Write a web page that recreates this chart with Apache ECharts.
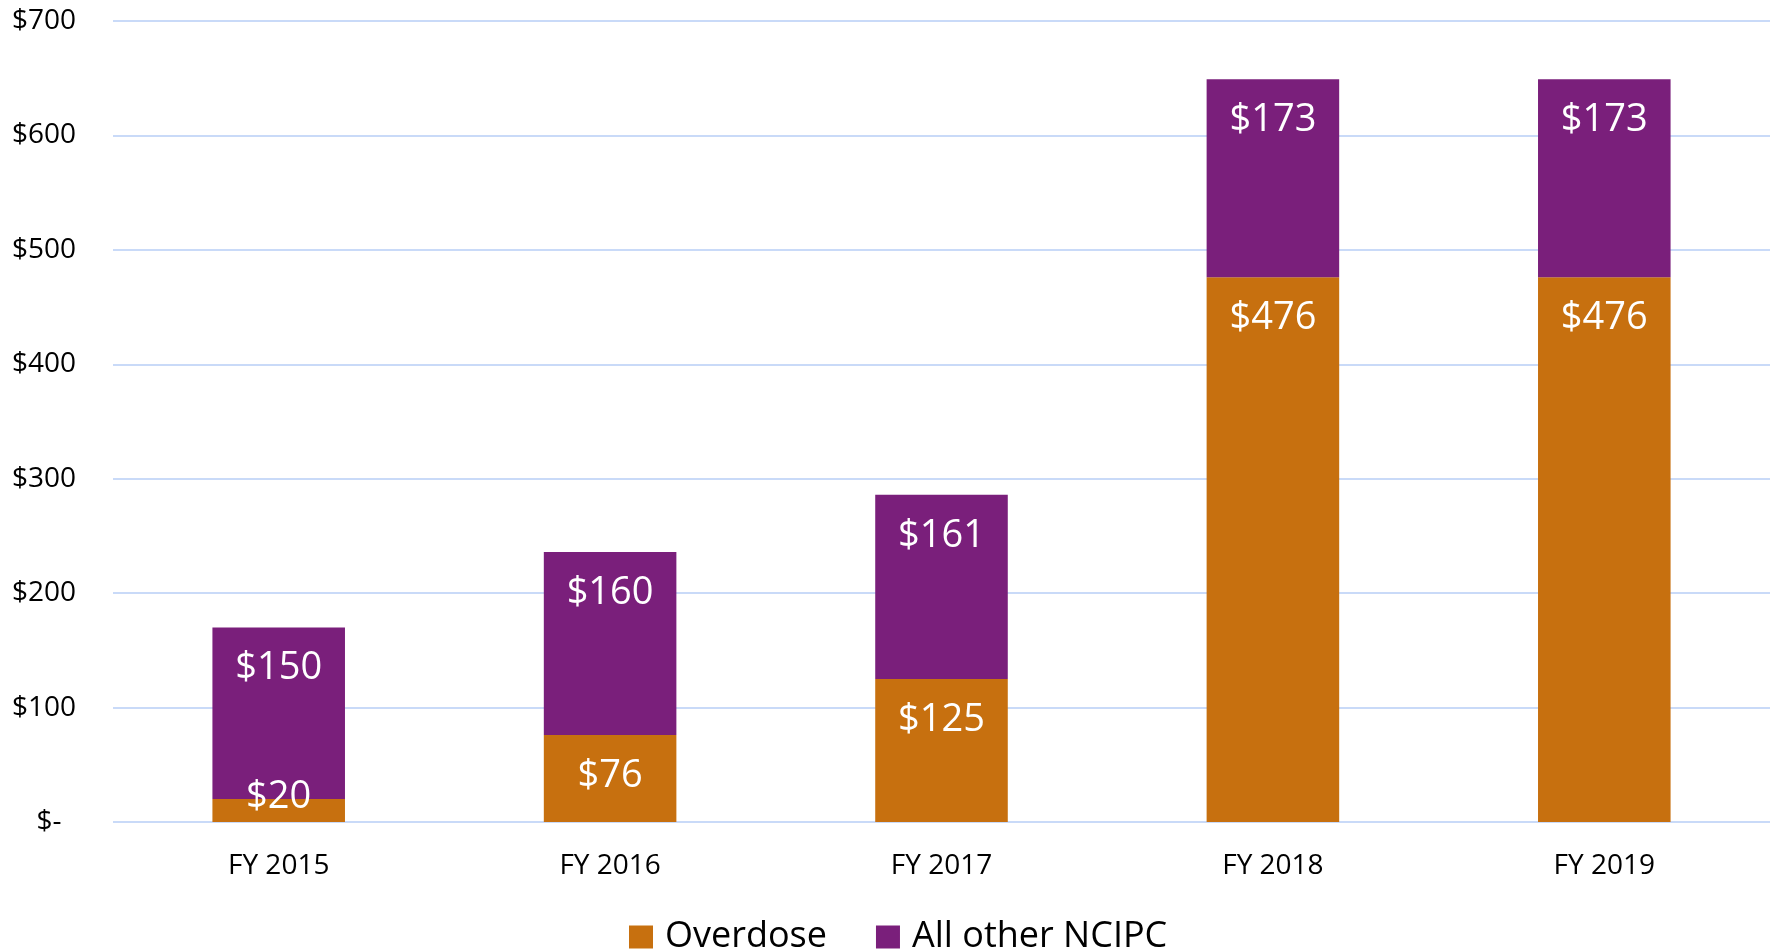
<!DOCTYPE html>
<html>
<head>
<meta charset="utf-8">
<script src="https://cdn.jsdelivr.net/npm/echarts@6/dist/echarts.min.js"></script>
<style>
html,body{margin:0;padding:0;background:#fff;}
#chart{width:1781px;height:950px;}
</style>
</head>
<body>
<div id="chart"></div>
<script>
const categories = ['FY 2015', 'FY 2016', 'FY 2017', 'FY 2018', 'FY 2019'];
const overdose = [20, 76, 125, 476, 476];
const allOther = [150, 160, 161, 173, 173];
const seriesNames = ['Overdose', 'All other NCIPC'];
const yTicks = [0, 100, 200, 300, 400, 500, 600, 700];

const FONT = '"Open Sans", "Noto Sans", sans-serif';
const ORANGE = '#C7700F';
const PURPLE = '#7A1F7B';

function buildData(values) {
  return values.map(v => {
    if (v < 40) {
      return { value: v, label: { position: 'inside', offset: [0, -13] } };
    }
    return v;
  });
}

const labelStyle = {
  show: true,
  position: 'insideTop',
  distance: 22,
  color: '#ffffff',
  fontFamily: FONT,
  fontSize: 38,
  formatter: p => '$' + p.value
};

const chart = echarts.init(document.getElementById('chart'), null, { renderer: 'canvas' });
chart.setOption({
  animation: false,
  backgroundColor: '#ffffff',
  grid: { left: 113, right: 11, top: 21, bottom: 128, containLabel: false },
  legend: {
    data: seriesNames,
    top: 914,
    left: 624,
    itemWidth: 24,
    itemHeight: 23,
    itemGap: 49,
    icon: 'rect',
    textStyle: { fontFamily: FONT, fontSize: 36, color: '#000', padding: [0, 0, 0, 7] }
  },
  xAxis: {
    type: 'category',
    data: categories,
    axisLine: { show: false },
    axisTick: { show: false },
    axisLabel: { fontFamily: FONT, fontSize: 28, color: '#000', margin: 30 }
  },
  yAxis: {
    type: 'value',
    min: yTicks[0],
    max: yTicks[yTicks.length - 1],
    interval: yTicks[1] - yTicks[0],
    axisLine: { show: false },
    axisTick: { show: false },
    splitLine: { lineStyle: { color: '#C9DAF8', width: 2 } },
    axisLabel: {
      fontFamily: FONT, fontSize: 28, color: '#000', margin: 37,
      formatter: v => v === 0 ? '$-  ' : '$' + v
    }
  },
  series: [
    {
      name: seriesNames[0],
      type: 'bar',
      stack: 'total',
      barCategoryGap: '60%',
      data: buildData(overdose),
      itemStyle: { color: ORANGE },
      label: labelStyle
    },
    {
      name: seriesNames[1],
      type: 'bar',
      stack: 'total',
      barCategoryGap: '60%',
      data: buildData(allOther),
      itemStyle: { color: PURPLE },
      label: labelStyle
    }
  ]
});
</script>
</body>
</html>
